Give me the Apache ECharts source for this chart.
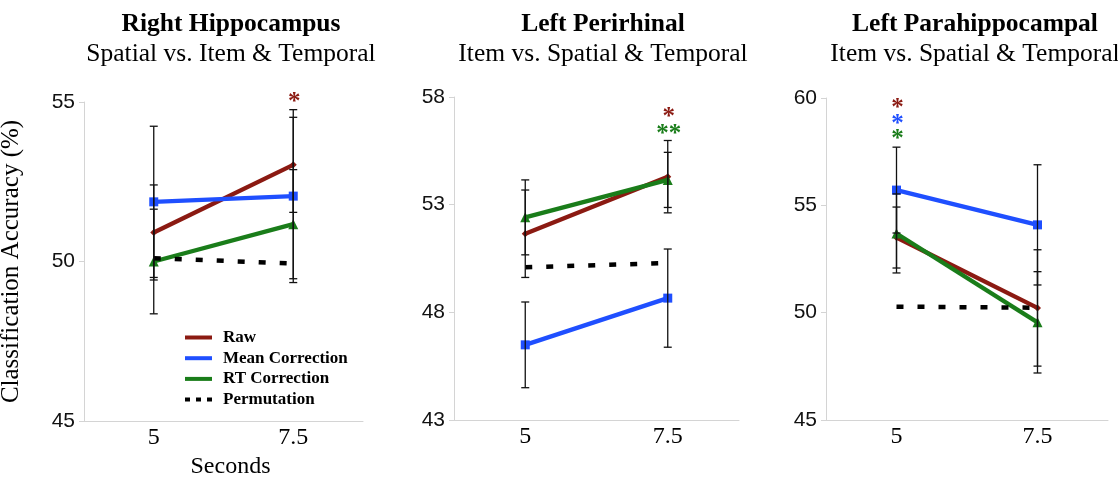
<!DOCTYPE html>
<html><head><meta charset="utf-8">
<script src="https://cdn.jsdelivr.net/npm/echarts@6/dist/echarts.min.js"></script>
<style>html,body{margin:0;padding:0;background:#fff}#c{width:1118px;height:477px}</style>
</head><body><div id="c"></div>
<script>
// ---------- data ----------
const categories = ['5', '7.5'];
const seriesNames = ['Raw', 'Mean Correction', 'RT Correction', 'Permutation'];
const panelTitles = ['Right Hippocampus', 'Left Perirhinal', 'Left Parahippocampal'];
const panelSubtitles = ['Spatial vs. Item & Temporal', 'Item vs. Spatial & Temporal', 'Item vs. Spatial & Temporal'];
const yMin = [45, 43, 45];
const yMax = [55, 58, 60];
const yStep = [5, 5, 5];

// Panel 1 – Right Hippocampus
const p1Raw  = [50.91, 53.03];
const p1Mean = [51.87, 52.05];
const p1RT   = [50.00, 51.17];
const p1Perm = [50.10, 49.94];
const p1RawErr  = [1.49, 1.49];
const p1MeanErr = [2.37, 2.71];
const p1RTErr   = [1.64, 1.71];

// Panel 2 – Left Perirhinal
const p2Raw  = [51.65, 54.30];
const p2Mean = [46.49, 48.66];
const p2RT   = [52.41, 54.15];
const p2Perm = [50.09, 50.29];
const p2RawErr  = [2.03, 1.68];
const p2MeanErr = [1.99, 2.28];
const p2RTErr   = [1.74, 1.28];

// Panel 3 – Left Parahippocampal
const p3Raw  = [53.50, 50.22];
const p3Mean = [55.71, 54.09];
const p3RT   = [53.69, 49.55];
const p3Perm = [50.28, 50.23];
const p3RawErr  = [1.42, 2.71];
const p3MeanErr = [2.00, 2.80];
const p3RTErr   = [1.84, 2.36];

// significance markers (panel, category index, y value, text, series colour index)
const sigPanel  = [0, 1, 1, 2, 2, 2];
const sigCat    = [1, 1, 1, 0, 0, 0];
const sigY      = [55.10, 57.22, 56.43, 59.71, 58.96, 58.26];
const sigText   = ['*', '*', '**', '*', '*', '*'];
const sigSeries = [0, 0, 2, 0, 1, 2];

// ---------- styling ----------
const colors = ['#8B1A12', '#1F4FFF', '#1A7D1A', '#000000'];
const symbols = ['diamond', 'rect', 'triangle', 'none'];
const symbolSizes = [7, 9, 10, 0];
const SERIF = '"Liberation Serif", "Times New Roman", serif';
const SANS = '"Liberation Sans", Arial, sans-serif';

const panels = [
  {vals: [p1Raw, p1Mean, p1RT, p1Perm], errs: [p1RawErr, p1MeanErr, p1RTErr]},
  {vals: [p2Raw, p2Mean, p2RT, p2Perm], errs: [p2RawErr, p2MeanErr, p2RTErr]},
  {vals: [p3Raw, p3Mean, p3RT, p3Perm], errs: [p3RawErr, p3MeanErr, p3RTErr]}
];

const grids = [
  {left: 84, top: 102, width: 279, height: 319},
  {left: 454, top: 97, width: 285, height: 323},
  {left: 826, top: 98, width: 282, height: 322}
];
const titleCenters = [226, 598, 970];

const option = {
  animation: false,
  backgroundColor: '#fff',
  title: panelTitles.map((t, i) => ({
    text: t, subtext: panelSubtitles[i],
    left: titleCenters[i], top: 6, textAlign: 'center', itemGap: 4,
    textStyle: {fontFamily: SERIF, fontWeight: 'bold', fontSize: 25.5, color: '#000'},
    subtextStyle: {fontFamily: SERIF, fontWeight: 'normal', fontSize: 25.5, color: '#000'}
  })),
  legend: {
    orient: 'vertical', left: 180, top: 324,
    itemWidth: 27, itemHeight: 4, itemGap: 3.7,
    selectedMode: false,
    textStyle: {fontFamily: SERIF, fontWeight: 'bold', fontSize: 17, color: '#000', padding: [0, 0, 0, 6]},
    data: seriesNames.map((n, i) => ({
      name: n,
      icon: i === 3 ? 'path://M0,0h5v4h-5z M11,0h5v4h-5z M22,0h5v4h-5z' : 'rect',
      itemStyle: {color: colors[i], borderWidth: 0}
    }))
  },
  grid: grids.map(g => Object.assign({outerBoundsMode: 'none', containLabel: false}, g)),
  xAxis: grids.map((g, i) => ({
    type: 'category', gridIndex: i, data: categories, boundaryGap: true,
    axisLine: {lineStyle: {color: '#d4d4d4', width: 1}},
    axisTick: {show: false},
    axisLabel: {fontFamily: SERIF, fontSize: 24, color: '#000', margin: 5},
    name: i === 0 ? 'Seconds' : '', nameLocation: 'middle', nameGap: 30,
    nameTextStyle: {fontFamily: SERIF, fontSize: 24, color: '#000', padding: [0, 0, 0, 14]}
  })),
  yAxis: grids.map((g, i) => ({
    type: 'value', gridIndex: i, min: yMin[i], max: yMax[i], interval: yStep[i],
    axisLine: {show: true, lineStyle: {color: '#d4d4d4', width: 1}},
    axisTick: {show: true, length: 5, lineStyle: {color: '#d4d4d4'}},
    splitLine: {show: false},
    axisLabel: {fontFamily: SANS, fontSize: 21, color: '#111', margin: 9},
    name: i === 0 ? 'Classification Accuracy (%)' : '', nameLocation: 'middle', nameGap: 60,
    nameTextStyle: {fontFamily: SERIF, fontSize: 25, color: '#000'}
  })),
  series: []
};

panels.forEach((p, pi) => {
  p.vals.forEach((vals, si) => {
    option.series.push({
      name: seriesNames[si], type: 'line', xAxisIndex: pi, yAxisIndex: pi,
      data: vals,
      symbol: symbols[si], symbolSize: symbolSizes[si], showSymbol: si !== 3,
      itemStyle: {color: colors[si], borderWidth: 0},
      lineStyle: si === 3
        ? {color: colors[si], width: 4.5, type: [7, 14], cap: 'butt'}
        : {color: colors[si], width: 4.3},
      z: 3 + si * 0.1,
      emphasis: {disabled: true}
    });
  });
  // error bars
  const ebData = [];
  p.errs.forEach((err, si) => {
    err.forEach((e, ci) => {
      const v = p.vals[si][ci];
      ebData.push([ci, v - e, v + e]);
    });
  });
  option.series.push({
    type: 'custom', xAxisIndex: pi, yAxisIndex: pi, z: 5, silent: true,
    encode: {x: 0, y: [1, 2]},
    data: ebData,
    renderItem: function (params, api) {
      const top = api.coord([api.value(0), api.value(2)]);
      const bot = api.coord([api.value(0), api.value(1)]);
      const w = 4;
      const st = {stroke: '#111', lineWidth: 1.3};
      return {type: 'group', children: [
        {type: 'line', shape: {x1: top[0], y1: top[1], x2: bot[0], y2: bot[1]}, style: st},
        {type: 'line', shape: {x1: top[0] - w, y1: top[1], x2: top[0] + w, y2: top[1]}, style: st},
        {type: 'line', shape: {x1: bot[0] - w, y1: bot[1], x2: bot[0] + w, y2: bot[1]}, style: st}
      ]};
    }
  });
  // significance asterisks
  const idx = [];
  sigPanel.forEach((sp, k) => { if (sp === pi) idx.push(k); });
  option.series.push({
    type: 'custom', xAxisIndex: pi, yAxisIndex: pi, z: 6, silent: true, clip: false,
    encode: {x: 0, y: 1},
    data: idx.map(k => [sigCat[k], sigY[k]]),
    renderItem: function (params, api) {
      const k = idx[params.dataIndex];
      const pt = api.coord([api.value(0), api.value(1)]);
      return {type: 'text', x: pt[0] + 1, y: pt[1] + 4, style: {
        text: sigText[k], fill: colors[sigSeries[k]],
        fontFamily: SERIF, fontSize: 25, fontWeight: 'bold', align: 'center', verticalAlign: 'middle'
      }};
    }
  });
});

const chart = echarts.init(document.getElementById('c'), null, {renderer: 'canvas'});
chart.setOption(option);
</script>
</body></html>
